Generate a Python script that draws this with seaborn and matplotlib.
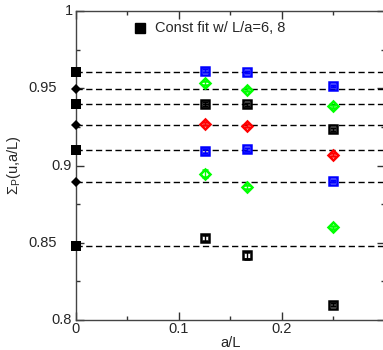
import numpy as np
import pandas as pd
import matplotlib
matplotlib.use("Agg")
import matplotlib.pyplot as plt
import seaborn as sns
from matplotlib.ticker import MultipleLocator

sns.set_style("ticks")
plt.rcParams['font.family'] = ['Liberation Sans', 'DejaVu Sans']
plt.rcParams['mathtext.fontset'] = 'custom'
plt.rcParams['mathtext.rm'] = 'Liberation Sans'
plt.rcParams['mathtext.it'] = 'Liberation Sans'

# lattice spacings a/L for L/a = 8, 6, 4
x_vals = [1/8, 1/6, 1/4]

series_colors = ["blue", "lime", "black", "red", "blue", "lime", "black"]
series_markers = ["s", "D", "s", "D", "s", "D", "s"]
series_vals = [
    [0.9612, 0.9605, 0.9515],
    [0.9532, 0.9489, 0.9383],
    [0.9398, 0.9396, 0.9234],
    [0.9271, 0.9258, 0.9070],
    [0.9092, 0.9105, 0.8898],
    [0.8947, 0.8861, 0.8600],
    [0.8531, 0.8419, 0.8099],
]
series_errs = [
    [0.0010, 0.0008, 0.0008],
    [0.0012, 0.0010, 0.0008],
    [0.0010, 0.0010, 0.0008],
    [0.0012, 0.0010, 0.0010],
    [0.0012, 0.0010, 0.0008],
    [0.0022, 0.0012, 0.0010],
    [0.0020, 0.0022, 0.0008],
]
fit_vals = [0.9607, 0.9497, 0.9398, 0.9260, 0.9100, 0.8893, 0.8479]
fit_errs = [0.0008, 0.0008, 0.0008, 0.0008, 0.0010, 0.0010, 0.0012]

xtick_vals = [0.0, 0.1, 0.2]
xtick_labels = ["0", "0.1", "0.2"]
ytick_vals = [0.8, 0.85, 0.9, 0.95, 1.0]
ytick_labels = ["0.8", "0.85", "0.9", "0.95", "1"]

fig = plt.figure(figsize=(3.83, 3.5), dpi=100)
ax = fig.add_axes([76/383, 1-320/350, 308.5/383, 309/350])

# dashed constant-fit lines
for v in fit_vals:
    ax.axhline(v, color="black", ls=(0, (4.5, 2.5)), lw=1.0, zorder=1)

# lattice data with error bars
for vals, errs, c, m in zip(series_vals, series_errs, series_colors, series_markers):
    ax.errorbar(x_vals, vals, yerr=errs, fmt=m, color=c, mfc="none", mec=c,
                ms=5.5 if m == "s" else 5.0, mew=1.8, elinewidth=1.0, capsize=2.5,
                capthick=1.0, zorder=3)

# constant fit points at a/L = 0
for v, e, m in zip(fit_vals, fit_errs, series_markers):
    ax.errorbar([0.0], [v], yerr=[e], fmt=m, color="black", mfc="black",
                ms=6.5 if m == "s" else 5.0, mew=0, elinewidth=1.0, capsize=3,
                capthick=1.0, zorder=4, clip_on=False)

# legend
ax.plot([0.0624], [0.989], marker="s", ls="none", color="black", ms=6.5)
ax.text(0.077, 0.989, "Const fit w/ L/a=6, 8", va="center", ha="left", fontsize=10.5)

ax.set_xlim(0, 0.3)
ax.set_ylim(0.8, 1.0)
ax.xaxis.set_minor_locator(MultipleLocator(0.05))
ax.yaxis.set_minor_locator(MultipleLocator(0.025))
ax.set_xticks(xtick_vals)
ax.set_xticklabels(xtick_labels)
ax.set_yticks(ytick_vals)
ax.set_yticklabels([])
ax.tick_params(which="both", direction="in", top=True, right=True, labelsize=10.5,
               color="#333333", width=1.0)
ax.tick_params(which="major", length=6)
ax.tick_params(axis="x", which="major", pad=1.5)
ax.tick_params(which="minor", length=3)
for s in ax.spines.values():
    s.set_color("#444444")
    s.set_linewidth(1.0)

# y tick labels placed like the original (staggered right edges)
ytr = ax.get_yaxis_transform()
right_edges = {"0.8": -0.0130, "0.85": -0.0618, "0.9": -0.0130, "0.95": -0.0618, "1": -0.0098}
for v, lab in zip(ytick_vals, ytick_labels):
    ax.text(right_edges[lab], v, lab, transform=ytr, ha="right", va="center",
            fontsize=10.5, clip_on=False)

# axis titles
ax.text(0.5, -0.0744, "a/L", transform=ax.transAxes, ha="center", va="center",
        fontsize=10.5, clip_on=False)
ax.text(-0.2016, 0.5016, r"$\Sigma_{\mathrm{P}}$(u,a/L)", transform=ax.transAxes,
        ha="center", va="center", rotation=90, fontsize=10.5, clip_on=False)

fig.savefig("out.png", dpi=100)
